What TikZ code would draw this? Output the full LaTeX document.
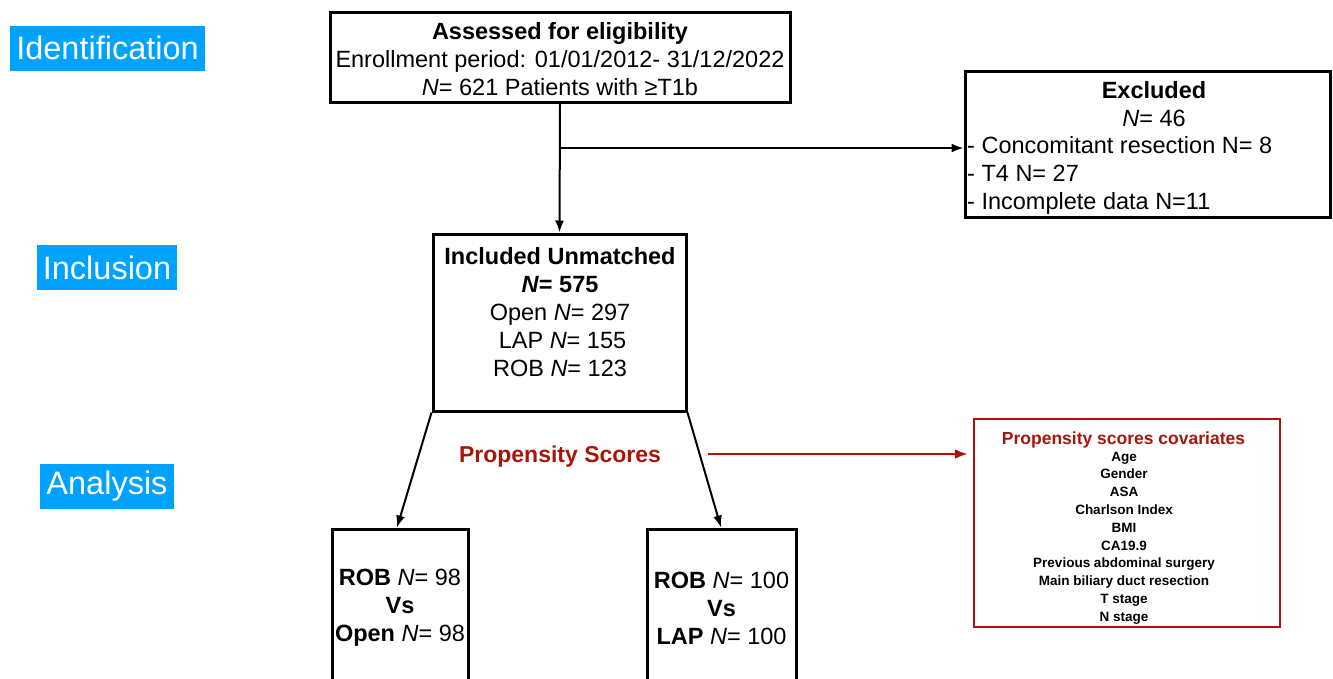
\documentclass[tikz,border=0pt]{standalone}
\usepackage{fontspec}
\setmainfont{Liberation Sans}
\usetikzlibrary{arrows.meta}
\definecolor{phaseblue}{RGB}{0,162,255}
\definecolor{psred}{RGB}{168,22,10}
\begin{document}
\begin{tikzpicture}[x=1pt,y=-1pt,
  box/.style={draw=black, line width=3pt, inner sep=0pt},
  txt/.style={font=\fontsize{23.5}{28}\selectfont, align=center, inner sep=0pt},
  phase/.style={fill=phaseblue, text=white, font=\fontsize{32.5}{36}\selectfont,
    inner xsep=6pt, inner ysep=0pt, minimum height=45pt},
  arr/.style={-{Latex[length=12pt,width=9pt]}, line width=2pt},
  redarr/.style={-{Latex[length=13pt,width=10pt]}, line width=2.8pt, draw=psred},
  covbox/.style={draw=psred, line width=2.2pt, inner sep=0pt},
  covtitle/.style={font=\fontsize{17.5}{20}\selectfont\bfseries, text=psred, inner sep=0pt},
  covlist/.style={font=\fontsize{13.5}{17.8}\selectfont\bfseries, align=center, inner sep=0pt}]
\useasboundingbox (0,0) rectangle (1333,678);
\clip (0,0) rectangle (1333,678);

% phase labels
\node[phase] (ident) at (107.5,48) {Identification};
\node[phase] (incl) at (107,267.5) {Inclusion};
\node[phase] (anal) at (107,486.5) {Analysis};

% boxes
\node[box, minimum width=460pt, minimum height=90pt] (assess) at (560,57) {};
\node[txt] (assessT) at (560,59) {\textbf{Assessed for eligibility}\\Enrollment period: 01/01/2012- 31/12/2022\\\textit{N}= 621 Patients with ≥T1b};

\node[box, minimum width=365pt, minimum height=146pt] (excl) at (1147.5,144) {};
\node[txt] (exclT) at (1154,104) {\textbf{Excluded}\\\textit{N}= 46};
\node[txt, align=left, anchor=west] (exclL) at (967,175) {- Concomitant resection N= 8\\- T4 N= 27\\- Incomplete data N=11};

\node[box, minimum width=253pt, minimum height=177pt] (inc) at (559.5,322.5) {};
\node[txt] (incT) at (560,312) {\textbf{Included Unmatched}\\\textbf{\textit{N}= 575}\\Open \textit{N}= 297\\\hspace*{5pt}LAP \textit{N}= 155\\ROB \textit{N}= 123};

\node[box, minimum width=136pt, minimum height=171pt] (ro) at (400,614.5) {};
\node[txt] (roT) at (400,608) {\textbf{ROB} \textit{N}= 98\\\textbf{Vs}\\\textbf{Open} \textit{N}= 98};

\node[box, minimum width=149pt, minimum height=171pt] (rl) at (721.5,614.5) {};
\node[txt] (rlT) at (721.5,608) {\textbf{ROB} \textit{N}= 100\\\textbf{Vs}\\\textbf{LAP} \textit{N}= 100};

% propensity
\node[font=\fontsize{23}{28}\selectfont\bfseries, text=psred, inner sep=0pt] (ps) at (560,457) {Propensity Scores};
\node[covbox, minimum width=306pt, minimum height=208pt] (cov) at (1127,523) {};
\node[covtitle] (covT) at (1123.5,440) {Propensity scores covariates};
\node[covlist] (covL) at (1124,538) {Age\\Gender\\ASA\\Charlson Index\\BMI\\CA19.9\\Previous abdominal surgery\\Main biliary duct resection\\T stage\\N stage};

% connectors
\coordinate (br) at (560,148);
\coordinate (psstart) at (708,454);
\draw[arr] (assess.south) -- (inc.north);
\draw[arr] (br) -- (excl.west |- br);
\draw[arr] (inc.south west) -- (397,527.5);
\draw[arr] (inc.south east) -- (721,527.5);
\draw[redarr] (psstart) -- ([xshift=-5pt]cov.west |- psstart);
\end{tikzpicture}
\end{document}
